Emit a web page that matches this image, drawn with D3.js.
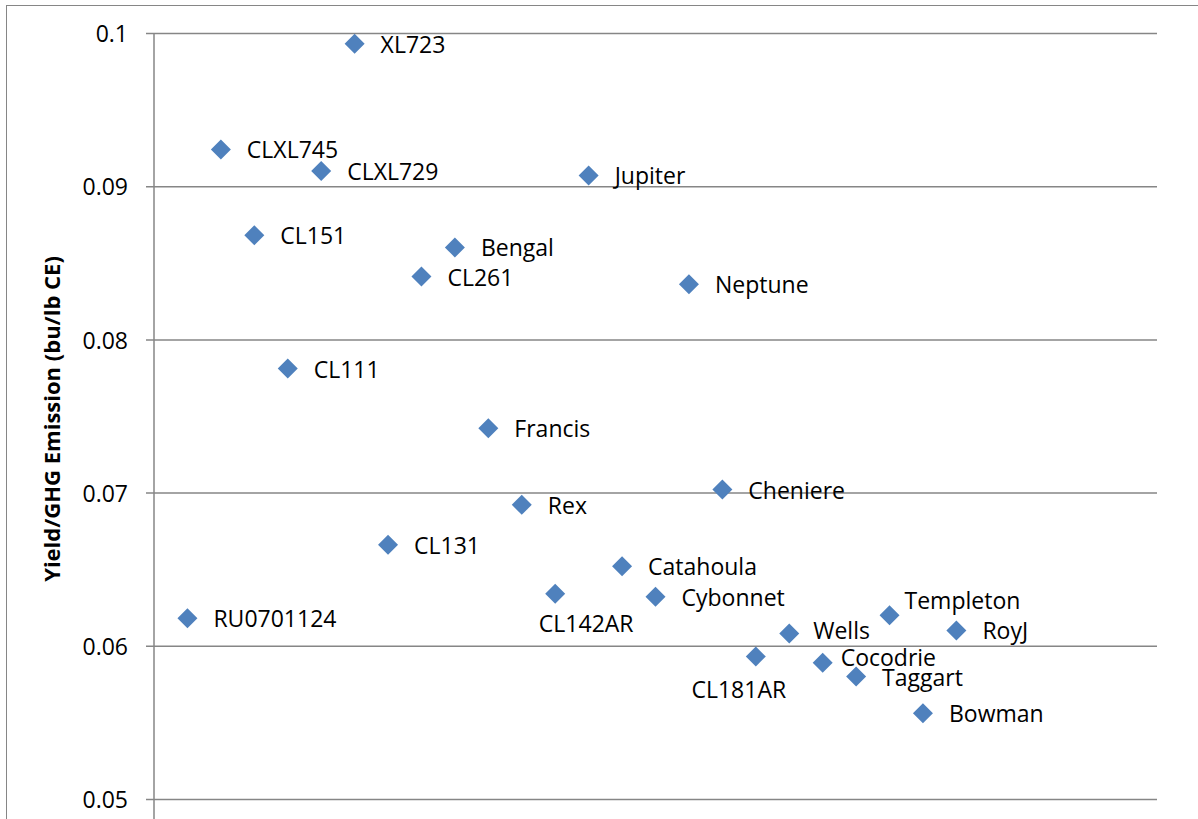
<!DOCTYPE html>
<html>
<head>
<meta charset="utf-8">
<script src="https://cdn.jsdelivr.net/npm/d3@7"></script>
<style>
  html, body { margin: 0; padding: 0; background: #fff; }
  svg { display: block; }
  text { font-family: "Open Sans", "Noto Sans", sans-serif; fill: #000; }
</style>
</head>
<body>
<script>
// ---- data ----
const varieties = ["RU0701124","CLXL745","CL151","CL111","CLXL729","XL723","CL131","CL261",
  "Bengal","Francis","Rex","CL142AR","Jupiter","Catahoula","Cybonnet","Neptune","Cheniere",
  "CL181AR","Wells","Cocodrie","Taggart","Templeton","Bowman","RoyJ"];
const xIndex = [1,2,3,4,5,6,7,8,9,10,11,12,13,14,15,16,17,18,19,20,21,22,23,24];
const yieldPerGHG = [0.0618,0.0924,0.0868,0.0781,0.0910,0.0993,0.0666,0.0841,
  0.0860,0.0742,0.0692,0.0634,0.0907,0.0652,0.0632,0.0836,0.0702,
  0.0593,0.0608,0.0589,0.0580,0.0620,0.0556,0.0610];
const yTicks = [0.05,0.06,0.07,0.08,0.09,0.1];
const yTitle = "Yield/GHG Emission (bu/lb CE)";

// ---- label placement (pixel offsets from marker) ----
const labelOffsets = {
  "CL142AR":   {dx: 31, dy: 38, anchor: "middle"},
  "CL181AR":   {dx: -17, dy: 41, anchor: "middle"},
  "Templeton": {dx: 15, dy: -6},
  "Wells":     {dx: 24, dy: 5},
  "Cocodrie":  {dx: 18, dy: 3},
  "Taggart":   {dx: 26, dy: 10}
};
const defaultOffset = {dx: 26, dy: 9, anchor: "start"};

// ---- layout ----
const W = 1198, H = 819;
const plot = {left: 154, right: 1157, top: 33, bottom: 799};

const svg = d3.select("body").append("svg").attr("width", W).attr("height", H);

// outer chart border
svg.append("rect")
  .attr("x", 6.5).attr("y", 5.5)
  .attr("width", 1300).attr("height", 1000)
  .attr("fill", "none").attr("stroke", "#868686").attr("stroke-width", 1);

const x = d3.scaleLinear().domain([0, 30]).range([plot.left, plot.right]);
const y = d3.scaleLinear().domain([0.05, 0.1]).range([plot.bottom, plot.top]);

const yAxis = d3.axisLeft(y)
  .tickValues(yTicks)
  .tickFormat(d => d3.format("")(+d.toFixed(2)))
  .tickSize(-(plot.right - plot.left))
  .tickPadding(18);

const gAxis = svg.append("g")
  .attr("transform", `translate(${plot.left},0)`)
  .call(yAxis);
gAxis.select(".domain").remove();
gAxis.selectAll(".tick line")
  .attr("x1", -8)
  .attr("stroke", "#868686").attr("stroke-width", 1.5);
gAxis.selectAll(".tick text")
  .attr("x", -26)
  .attr("dy", null)
  .attr("dominant-baseline", "auto")
  .attr("transform", "translate(0,8.7)")
  .style("font-size", "23px")
  .style("font-family", "'Open Sans', 'Noto Sans', sans-serif")
  .attr("fill", "#000");

// vertical axis line
svg.append("line")
  .attr("x1", plot.left).attr("x2", plot.left)
  .attr("y1", y(0.1)).attr("y2", H)
  .attr("stroke", "#868686").attr("stroke-width", 1.5);

// axis title
svg.append("text")
  .attr("transform", `translate(60, ${(plot.top + plot.bottom) / 2 + 3}) rotate(-90)`)
  .attr("text-anchor", "middle")
  .style("font-size", "22px")
  .style("font-weight", "bold")
  .text(yTitle);

// data points
const data = varieties.map((name, i) => ({name, xv: xIndex[i], yv: yieldPerGHG[i]}));

const sym = d3.symbol().type(d3.symbolSquare).size(200);
svg.append("g").selectAll("path")
  .data(data)
  .join("path")
  .attr("d", sym)
  .attr("transform", d => `translate(${x(d.xv)},${y(d.yv)}) rotate(45)`)
  .attr("fill", "#4F81BD");

svg.append("g").selectAll("text")
  .data(data)
  .join("text")
  .attr("x", d => x(d.xv) + (labelOffsets[d.name] || defaultOffset).dx)
  .attr("y", d => y(d.yv) + (labelOffsets[d.name] || defaultOffset).dy)
  .attr("text-anchor", d => (labelOffsets[d.name] || defaultOffset).anchor || "start")
  .style("font-size", "23px")
  .text(d => d.name);
</script>
</body>
</html>
